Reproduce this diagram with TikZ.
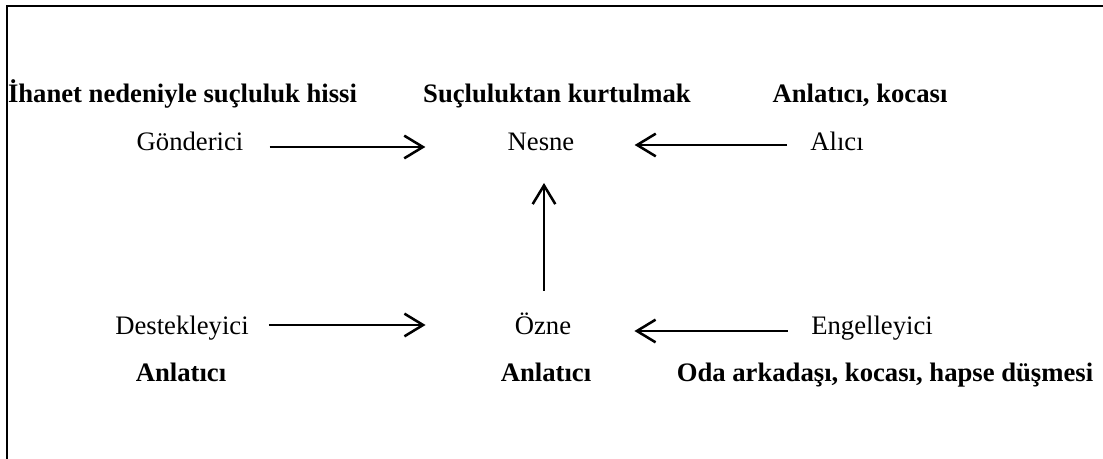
\documentclass[tikz,border=0pt]{standalone}
\usepackage{fontspec}
\setmainfont{Liberation Serif}
\usetikzlibrary{arrows.meta,calc}

\tikzset{every picture/.style={line width=2pt}}
\tikzset{
  lbl/.style={anchor=base,inner sep=0pt,font=\fontsize{20}{24}\selectfont},
  bld/.style={lbl,font=\fontsize{20}{24}\selectfont\bfseries},
  arr/.style={-{Straight Barb[length=14pt,width=17pt,line width=1.9pt]}}
}

\begin{document}
\begin{tikzpicture}[x=0.75pt,y=0.75pt,yscale=-1,xscale=1]
		\useasboundingbox (0,0) rectangle (1103,459);

		%Frame lines
		\draw [line width=2.1pt] (7,459) -- (7,6) -- (1103,6) ;

		% Text Node
		\node [bld] (ihanet) at (182.5,103) {İhanet nedeniyle suçluluk hissi};
		% Text Node
		\node [bld] (sucl) at (557,103) {Suçluluktan kurtulmak};
		% Text Node
		\node [bld] (anlkoc) at (860,103) {Anlatıcı, kocası};
		% Text Node
		\node [lbl] (gond) at (190,151) {Gönderici};
		% Text Node
		\node [lbl] (nesne) at (541,151) {Nesne};
		% Text Node
		\node [lbl] (alici) at (837,151) {Alıcı};
		% Text Node
		\node [lbl] (destek) at (182,335) {Destekleyici};
		% Text Node
		\node [lbl] (ozne) at (543,335) {Özne};
		% Text Node
		\node [lbl] (engel) at (872,335) {Engelleyici};
		% Text Node
		\node [bld] (anl1) at (181,382) {Anlatıcı};
		% Text Node
		\node [bld] (anl2) at (546,382) {Anlatıcı};
		% Text Node
		\node [bld] (oda) at (885,382) {Oda arkadaşı, kocası, hapse düşmesi};

		%Straight Lines
		\draw [arr] ($(gond.base east)+(25,-4)$) -- ($(nesne.base west)+(-81,-4)$) ;
		%Straight Lines
		\draw [arr] ($(alici.base west)+(-22,-6)$) -- ($(nesne.base east)+(59,-6)$) ;
		%Straight Lines
		\draw [arr] ($(ozne.base)+(1,-44)$) -- ($(nesne.base)+(3,32)$) ;
		%Straight Lines
		\draw [arr] ($(destek.base east)+(19,-10)$) -- ($(ozne.base west)+(-88,-10)$) ;
		%Straight Lines
		\draw [arr] ($(engel.base west)+(-22,-4)$) -- ($(ozne.base east)+(62,-4)$) ;

\end{tikzpicture}
\end{document}
